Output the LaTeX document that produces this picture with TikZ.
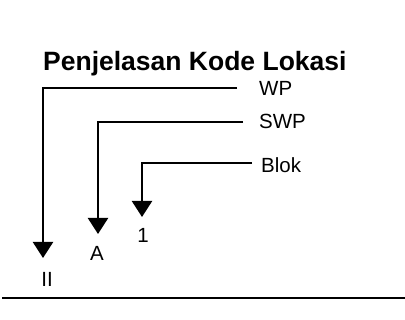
\documentclass[tikz,border=0pt]{standalone}
\usepackage{fontspec}
\setmainfont{Liberation Sans}
\usetikzlibrary{arrows.meta}
\begin{document}
\begin{tikzpicture}[x=1pt,y=-1pt,line width=2.3pt,
  lbl/.style={font=\fontsize{20.5}{20.5}\selectfont, inner sep=0pt},
  ttl/.style={font=\bfseries\fontsize{26.5}{26.5}\selectfont, inner sep=0pt},
  conn/.style={-{Triangle[width=20pt,length=16pt]}}]
\useasboundingbox (0,0) rectangle (405,320);
\node[ttl, anchor=base west] (title) at (42,71) {Penjelasan Kode Lokasi};
% right labels
\node[lbl, anchor=base west] (WP) at (258,95.5) {WP};
\node[lbl, anchor=base west] (SWP) at (258,129) {SWP};
\node[lbl, anchor=base west] (Blok) at (260,173) {Blok};
% bottom labels
\node[lbl, anchor=base] (II) at (47,286.5) {II};
\node[lbl, anchor=base] (A) at (97,260.5) {A};
\node[lbl, anchor=base] (one) at (143,243) {1};
% connector ends
\coordinate (wpS) at (237,88);
\coordinate (wpT) at (43,258);
\coordinate (swpS) at (243,122);
\coordinate (swpT) at (98,234);
\coordinate (blS) at (252,163);
\coordinate (blT) at (142,217);
\draw[conn] (wpS) -| (wpT);
\draw[conn] (swpS) -| (swpT);
\draw[conn] (blS) -| (blT);
% rule
\coordinate (ruleL) at (2,298);
\coordinate (ruleR) at (405,298);
\draw (ruleL) -- (ruleR);
\end{tikzpicture}
\end{document}
